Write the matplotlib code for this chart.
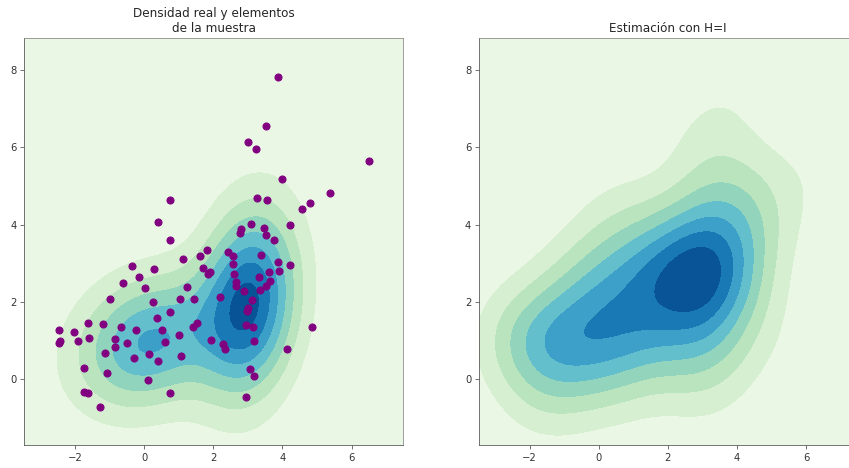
import numpy as np
import matplotlib
matplotlib.use('Agg')
import matplotlib.pyplot as plt

# muestra (x, y)
xs = [3.86, 3.53, 3.00, 3.25, 6.49, 3.98, 5.38, 4.79, 4.58, 3.28,
      3.55, 0.74, 0.40, 0.74, 3.09, 4.23, 2.81, 2.78, 3.47, 3.53,
      3.77, 2.42, 2.56, 1.82, 1.61, 1.14, 3.39, -0.34, 0.28, 1.70,
      1.91, 1.85, 2.56, 3.86, 4.23, 3.90, 3.61, 2.60, 3.31, -0.15,
      -0.61, 0.03, 1.24, 2.67, 2.67, 3.64, 3.53, 3.36, 2.90, -0.99,
      0.25, 1.05, 1.43, 2.20, 3.12, 0.74, 0.38, 3.00, 2.97, -2.47,
      -2.03, -1.63, -1.20, -0.67, -0.24, 0.53, 1.42, 1.54, 2.94, 3.15,
      4.85, -2.44, -2.47, -1.91, -1.60, -0.83, -0.50, -0.83, 1.02, 0.62,
      1.95, 2.29, 2.35, 3.18, 4.13, -1.14, -0.28, 0.13, 0.40, 1.08,
      -1.73, -1.08, 3.06, 3.18, 0.10, -1.73, -1.63, 0.74, 2.94, -1.27]
ys = [7.83, 6.56, 6.14, 5.95, 5.64, 5.17, 4.81, 4.57, 4.40, 4.70,
      4.65, 4.65, 4.07, 3.59, 4.01, 3.98, 3.88, 3.77, 3.91, 3.73,
      3.59, 3.29, 3.19, 3.33, 3.18, 3.10, 3.21, 2.93, 2.85, 2.88,
      2.76, 2.71, 2.99, 3.03, 2.96, 2.80, 2.77, 2.72, 2.63, 2.63,
      2.49, 2.36, 2.38, 2.50, 2.40, 2.54, 2.40, 2.30, 2.27, 2.08,
      1.99, 2.08, 2.08, 2.11, 2.04, 1.72, 1.58, 1.84, 1.75, 1.27,
      1.22, 1.44, 1.41, 1.35, 1.27, 1.27, 1.33, 1.44, 1.39, 1.35,
      1.35, 0.98, 0.93, 0.97, 1.05, 1.03, 0.92, 0.83, 1.14, 0.96,
      1.00, 0.90, 0.78, 0.97, 0.78, 0.67, 0.55, 0.65, 0.47, 0.58,
      0.28, 0.14, 0.25, 0.06, -0.03, -0.34, -0.36, -0.36, -0.47, -0.72]

# mezcla de dos normales (densidad real)
pesos = [0.44, 0.56]
medias = [[0.1, 0.95], [3.05, 2.0]]
covs = [[[2.1, 0.35], [0.35, 1.5]],
        [[0.95, 0.25], [0.25, 2.9]]]

muestra = np.column_stack([xs, ys])


def normal2d(P, mu, S):
    S = np.asarray(S)
    Si = np.linalg.inv(S)
    d = P - np.asarray(mu)
    q = np.einsum('...i,ij,...j->...', d, Si, d)
    return np.exp(-0.5 * q) / (2 * np.pi * np.sqrt(np.linalg.det(S)))


def kde(P, datos, H):
    f = np.zeros(P.shape[:-1])
    for xi in datos:
        f += normal2d(P, xi, H)
    return f / len(datos)


# rejilla
gx = np.linspace(muestra[:, 0].min() - 1, muestra[:, 0].max() + 1, 300)
gy = np.linspace(muestra[:, 1].min() - 1, muestra[:, 1].max() + 1, 300)
X, Y = np.meshgrid(gx, gy)
P = np.dstack([X, Y])

Z_real = sum(w * normal2d(P, m, S) for w, m, S in zip(pesos, medias, covs))
Z_est = kde(P, muestra, np.eye(2))

niv_real = np.arange(9) * Z_real.max() / 7.47
niv_est = np.arange(9) * Z_est.max() / 7.95

fig = plt.figure(figsize=(849 / 72, 468 / 72), dpi=72)
ax1 = fig.add_axes([0.0283, 0.049, 0.4465, 0.869])
ax2 = fig.add_axes([0.5638, 0.049, 0.4465, 0.869])

ax1.contourf(X, Y, Z_real, levels=niv_real, cmap='GnBu')
ax1.scatter(xs, ys, s=50, color='purple', zorder=3)
ax1.set_title('Densidad real y elementos\nde la muestra', color='#262626')

ax2.contourf(X, Y, Z_est, levels=niv_est, cmap='GnBu')
ax2.set_title('Estimación con H=I', color='#262626')

for ax in (ax1, ax2):
    ax.set_xticks([-2, 0, 2, 4, 6])
    ax.set_yticks([0, 2, 4, 6, 8])
    ax.tick_params(colors='#555555', labelcolor='#333333', length=4)
    for s in ('left', 'bottom'):
        ax.spines[s].set_color('#555555')
    for s in ('top', 'right'):
        ax.spines[s].set_color('#888888')

fig.savefig('out.png', dpi=72)
